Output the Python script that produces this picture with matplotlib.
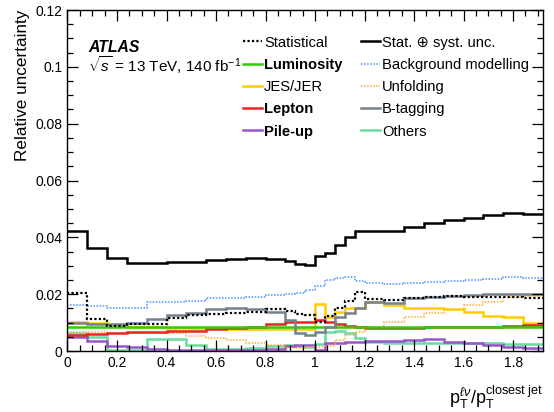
import matplotlib
matplotlib.use('Agg')
import matplotlib.pyplot as plt
from matplotlib.lines import Line2D
from matplotlib.ticker import MultipleLocator, FuncFormatter

plt.rcParams['font.family'] = ['Liberation Sans', 'DejaVu Sans']
plt.rcParams['mathtext.fontset'] = 'custom'
plt.rcParams['mathtext.rm'] = 'Liberation Sans'
plt.rcParams['mathtext.it'] = 'Liberation Sans:italic'
plt.rcParams['mathtext.bf'] = 'Liberation Sans:bold'

# bin edges of p_T(lv)/p_T(closest jet)
edges = [0, 0.08, 0.16, 0.24, 0.32, 0.40, 0.48, 0.56, 0.64, 0.72, 0.80, 0.88,
         0.92, 0.96, 1.00, 1.04, 1.08, 1.12, 1.16, 1.20, 1.28, 1.36, 1.44,
         1.52, 1.60, 1.68, 1.76, 1.84, 1.92]

total = [0.0423, 0.0361, 0.0326, 0.0311, 0.0310, 0.0313, 0.0314, 0.0321, 0.0323, 0.0327,
         0.0323, 0.0316, 0.0306, 0.0302, 0.0334, 0.0346, 0.0372, 0.0402, 0.0422, 0.0423,
         0.0423, 0.0436, 0.0451, 0.0461, 0.0469, 0.0479, 0.0486, 0.0483]
stat = [0.0203, 0.0113, 0.0089, 0.0094, 0.0095, 0.0115, 0.0127, 0.0129, 0.0133, 0.0136,
        0.0149, 0.0140, 0.0130, 0.0127, 0.0101, 0.0123, 0.0150, 0.0177, 0.0206, 0.0182,
        0.0178, 0.0186, 0.0190, 0.0193, 0.0191, 0.0189, 0.0191, 0.0185]
bkg = [0.0162, 0.0158, 0.0152, 0.0153, 0.0171, 0.0172, 0.0177, 0.0185, 0.0188, 0.0191,
       0.0197, 0.0199, 0.0203, 0.0215, 0.0229, 0.0250, 0.0258, 0.0262, 0.0246, 0.0240,
       0.0236, 0.0238, 0.0244, 0.0247, 0.0250, 0.0252, 0.0259, 0.0258]
btag = [0.0097, 0.0094, 0.0094, 0.0100, 0.0112, 0.0127, 0.0135, 0.0147, 0.0150, 0.0147,
        0.0138, 0.0109, 0.0062, 0.0058, 0.0068, 0.0086, 0.0119, 0.0135, 0.0150, 0.0171,
        0.0170, 0.0185, 0.0191, 0.0195, 0.0198, 0.0200, 0.0200, 0.0200]
jes = [0.0101, 0.0097, 0.0089, 0.0084, 0.0083, 0.0082, 0.0081, 0.0080, 0.0079, 0.0078,
       0.0077, 0.0076, 0.0076, 0.0076, 0.0165, 0.0121, 0.0138, 0.0150, 0.0152, 0.0173,
       0.0162, 0.0152, 0.0152, 0.0148, 0.0139, 0.0125, 0.0121, 0.0100]
lepton = [0.0056, 0.0060, 0.0062, 0.0068, 0.0068, 0.0070, 0.0072, 0.0076, 0.0080, 0.0086,
          0.0094, 0.0103, 0.0103, 0.0103, 0.0109, 0.0103, 0.0094, 0.0089, 0.0086, 0.0082,
          0.0082, 0.0082, 0.0083, 0.0083, 0.0084, 0.0086, 0.0088, 0.0090]
lumi = [0.0083, 0.0083, 0.0083, 0.0083, 0.0083, 0.0083, 0.0083, 0.0083, 0.0083, 0.0083,
        0.0083, 0.0083, 0.0083, 0.0083, 0.0083, 0.0083, 0.0083, 0.0083, 0.0083, 0.0083,
        0.0083, 0.0083, 0.0083, 0.0083, 0.0083, 0.0083, 0.0083, 0.0083]
unfold = [0.0068, 0.0066, 0.0062, 0.0064, 0.0064, 0.0062, 0.0054, 0.0045, 0.0038, 0.0027,
          0.0022, 0.0012, 0.0012, 0.0015, 0.0013, 0.0018, 0.0039, 0.0056, 0.0068, 0.0086,
          0.0101, 0.0119, 0.0133, 0.0146, 0.0162, 0.0173, 0.0189, 0.0195]
others = [0.0064, 0.0050, 0.0005, 0.0005, 0.0041, 0.0041, 0.0020, 0.0006, 0.0006, 0.0010,
          0.0019, 0.0020, 0.0018, 0.0015, 0.0025, 0.0068, 0.0071, 0.0064, 0.0045, 0.0032,
          0.0029, 0.0029, 0.0029, 0.0029, 0.0027, 0.0027, 0.0024, 0.0024]
pileup = [0.0050, 0.0035, 0.0018, 0.0013, 0.0006, 0.0005, 0.0004, 0.0004, 0.0004, 0.0005,
          0.0006, 0.0018, 0.0021, 0.0021, 0.0004, 0.0027, 0.0027, 0.0033, 0.0033, 0.0035,
          0.0035, 0.0039, 0.0041, 0.0033, 0.0027, 0.0021, 0.0015, 0.0010]

dots = (0, (1, 1))
# label, values, colour, linestyle, linewidth
left_col = [
    ('Statistical', stat, 'black', dots, 1.6),
    ('Luminosity', lumi, '#33cc00', '-', 1.8),
    ('JES/JER', jes, '#ffcc00', '-', 1.8),
    ('Lepton', lepton, '#ee2222', '-', 1.8),
    ('Pile-up', pileup, '#9955cc', '-', 1.8),
]
right_col = [
    ('Stat. \u2295 syst. unc.', total, 'black', '-', 1.8),
    ('Background modelling', bkg, '#4d8fff', dots, 1.1),
    ('Unfolding', unfold, '#ffaa33', dots, 1.1),
    ('B-tagging', btag, '#76818c', '-', 1.8),
    ('Others', others, '#66dda0', '-', 1.8),
]
bold_labels = ['Luminosity', 'Lepton', 'Pile-up']

fig = plt.figure(figsize=(5.54, 4.12), dpi=100)
ax = fig.add_axes([0.1218, 0.148, 0.858, 0.8277])

draw_order = [right_col[4], left_col[4], right_col[2], left_col[2], left_col[3],
              left_col[1], right_col[3], right_col[1], left_col[0], right_col[0]]
for lab, vals, col, ls, lw in draw_order:
    ax.stairs(vals, edges, baseline=None, color=col, linestyle=ls, linewidth=lw)

ax.set_xlim(0, 1.92)
ax.set_ylim(0, 0.12)
ax.xaxis.set_major_locator(MultipleLocator(0.2))
ax.xaxis.set_minor_locator(MultipleLocator(0.05))
ax.yaxis.set_major_locator(MultipleLocator(0.02))
ax.yaxis.set_minor_locator(MultipleLocator(0.005))
fmt = FuncFormatter(lambda v, p: '%g' % round(v, 4))
ax.xaxis.set_major_formatter(fmt)
ax.yaxis.set_major_formatter(fmt)
ax.tick_params(which='both', direction='in', top=True, right=True, labelsize=10)
ax.tick_params(which='major', length=8, width=0.9)
ax.tick_params(which='minor', length=4, width=0.9)
for s in ax.spines.values():
    s.set_linewidth(1.0)

ax.set_ylabel('Relative uncertainty', fontsize=12.3, loc='top')
ax.set_xlabel(r'$\mathrm{p}_{\mathrm{T}}^{\ell\nu}/\mathrm{p}_{\mathrm{T}}^{\mathrm{closest\ jet}}$',
              fontsize=13, loc='right', labelpad=10)

ax.text(0.043, 0.891, 'ATLAS', transform=ax.transAxes, fontsize=11.3,
        fontweight='bold', fontstyle='italic', va='center')
ax.text(0.043, 0.839, r'$\sqrt{s}$ = 13 TeV, 140 fb$^{-1}$', transform=ax.transAxes,
        fontsize=11, va='center')


def make_legend(entries, x):
    handles = [Line2D([], [], color=c, linestyle=ls, linewidth=lw)
               for lab, vals, c, ls, lw in entries]
    labels = [e[0] for e in entries]
    leg = ax.legend(handles, labels, loc='upper left', bbox_to_anchor=(x, 0.925),
                    frameon=False, fontsize=10.6, handlelength=1.3, handletextpad=0.15,
                    labelspacing=0.56, borderpad=0, borderaxespad=0)
    for t in leg.get_texts():
        if t.get_text() in bold_labels:
            t.set_fontweight('bold')
    return leg


leg1 = make_legend(left_col, 0.369)
ax.add_artist(leg1)
make_legend(right_col, 0.617)

fig.savefig('out.png', dpi=100)
